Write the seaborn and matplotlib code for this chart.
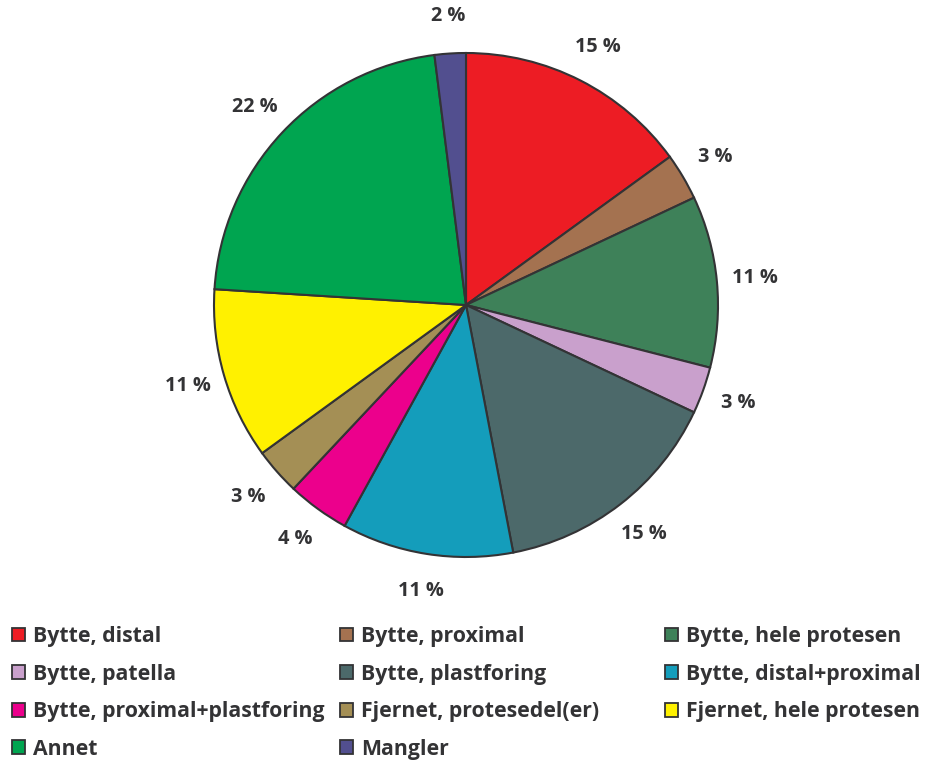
import matplotlib
matplotlib.use("Agg")
import matplotlib.pyplot as plt
from matplotlib.patches import Patch
import seaborn as sns

categories = [
    "Bytte, distal",
    "Bytte, proximal",
    "Bytte, hele protesen",
    "Bytte, patella",
    "Bytte, plastforing",
    "Bytte, distal+proximal",
    "Bytte, proximal+plastforing",
    "Fjernet, protesedel(er)",
    "Fjernet, hele protesen",
    "Annet",
    "Mangler",
]
percent = [15, 3, 11, 3, 15, 11, 4, 3, 11, 22, 2]
hex_colors = [
    "#ED1C24", "#A47250", "#3E8159", "#C9A0CC", "#4C696A", "#149DBB",
    "#EC008C", "#A48F55", "#FFF100", "#00A550", "#524F8F",
]

sns.set_theme(style="white")
plt.rcParams["font.family"] = ["Open Sans", "DejaVu Sans"]
palette = sns.color_palette(hex_colors)

TEXT = "#333335"
EDGE = "#333335"

W, H = 933, 760
fig = plt.figure(figsize=(W / 100, H / 100), dpi=100)

# pie axes: centre (466, 305) px, radius 252 px, limits +-1.2 units
lim = 1.2
r_px = 252
half = lim * r_px
cx, cy = 466, 305
ax = fig.add_axes([(cx - half) / W, (H - cy - half) / H, 2 * half / W, 2 * half / H])

wedges, _, autotexts = ax.pie(
    percent,
    colors=palette,
    startangle=90,
    counterclock=False,
    autopct=lambda p: f"{p:.0f} %",
    pctdistance=1.15,
    wedgeprops=dict(edgecolor=EDGE, linewidth=1.5),
    textprops=dict(color=TEXT, fontsize=14.3, fontweight="bold"),
)
ax.set_xlim(-lim, lim)
ax.set_ylim(-lim, lim)
ax.set_aspect("equal")
ax.axis("off")

# legend laid out row by row in three columns
col_x = [12, 340, 665]
top_y = 626
for j, x in enumerate(col_x):
    idx = list(range(j, len(categories), 3))
    handles = [Patch(facecolor=palette[i], edgecolor=EDGE, linewidth=1.3) for i in idx]
    labels = [categories[i] for i in idx]
    leg = fig.legend(
        handles, labels,
        loc="upper left",
        bbox_to_anchor=(x / W, 1 - top_y / H),
        frameon=False,
        prop=dict(weight="bold", size=15.3),
        handlelength=0.62, handleheight=0.62,
        handletextpad=0.37,
        labelspacing=0.78,
        borderpad=0, borderaxespad=0,
    )
    for t in leg.get_texts():
        t.set_color(TEXT)

fig.savefig("out.png", dpi=100, facecolor="white")
